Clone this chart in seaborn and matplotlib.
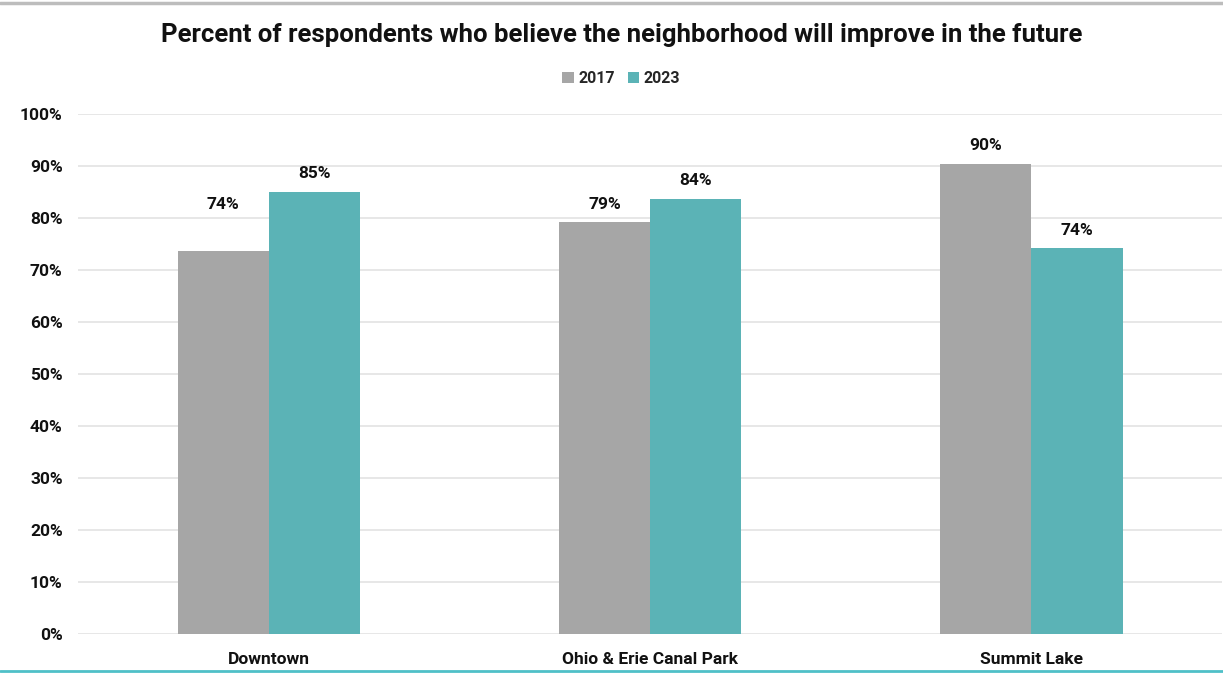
import matplotlib
matplotlib.use("Agg")
import matplotlib.pyplot as plt
import seaborn as sns
import pandas as pd
from matplotlib.ticker import PercentFormatter
from matplotlib.lines import Line2D
from matplotlib.patches import Patch

categories = ["Downtown", "Ohio & Erie Canal Park", "Summit Lake"]
years = ["2017", "2023"]
values_2017 = [73.6, 79.2, 90.4]
values_2023 = [85.0, 83.7, 74.2]
colors = {"2017": "#A6A6A6", "2023": "#5BB3B6"}

df = pd.DataFrame({
    "Neighborhood": categories * 2,
    "Year": ["2017"] * 3 + ["2023"] * 3,
    "Value": values_2017 + values_2023,
})

sns.set_theme(style="white")
plt.rcParams["font.family"] = ["Roboto", "DejaVu Sans"]

fig = plt.figure(figsize=(12.23, 6.74), dpi=100)
ax = fig.add_axes([0.0638, 0.0593, 0.9355, 0.7716])

sns.barplot(data=df, x="Neighborhood", y="Value", hue="Year", order=categories,
            hue_order=years, palette=colors, width=0.478, gap=0, ax=ax,
            saturation=1, legend=False, edgecolor="none")

ax.set_ylim(0, 100)
ax.set_xlim(-0.5, 2.5)
ax.set_yticks(range(0, 101, 10))
ax.yaxis.set_major_formatter(PercentFormatter(100, decimals=0))
ax.grid(axis="y", color="#E3E3E3", linewidth=1.2)
ax.set_axisbelow(True)
for s in ax.spines.values():
    s.set_visible(False)
ax.set_xlabel("")
ax.set_ylabel("")
ax.tick_params(axis="both", length=0, labelsize=12.5, colors="#111111")
ax.tick_params(axis="x", pad=13)
ax.tick_params(axis="y", pad=11)
for lbl in ax.get_xticklabels() + ax.get_yticklabels():
    lbl.set_fontweight("bold")

for ci, cont in enumerate(ax.containers):
    for bi, bar in enumerate(cont):
        v = cont.datavalues[bi]
        off = 34 if (ci == 0 and bi == 0) else 13
        ax.annotate(f"{v:.0f}%", (bar.get_x() + bar.get_width() / 2, bar.get_height()),
                    xytext=(0, off), textcoords="offset points", ha="center", va="center",
                    fontsize=12.5, fontweight="bold", color="#111111")

fig.text(0.508, 0.948, "Percent of respondents who believe the neighborhood will improve in the future",
         ha="center", va="center", fontsize=18.5, fontweight="bold", color="#111111")

handles = [Patch(facecolor=colors[y], edgecolor="none") for y in years]
fig.legend(handles, years, loc="center", bbox_to_anchor=(0.508, 0.884), ncol=2,
           frameon=False, handlelength=0.7, handleheight=0.7, handletextpad=0.3,
           columnspacing=0.8, prop={"weight": "bold", "size": 11.5})

fig.add_artist(Line2D([0, 1], [0.996, 0.996], color="#BDBDBD", linewidth=2.5, transform=fig.transFigure))
fig.add_artist(Line2D([0, 1], [0.004, 0.004], color="#4FC0C8", linewidth=2, transform=fig.transFigure))

fig.savefig("out.png", dpi=100)
